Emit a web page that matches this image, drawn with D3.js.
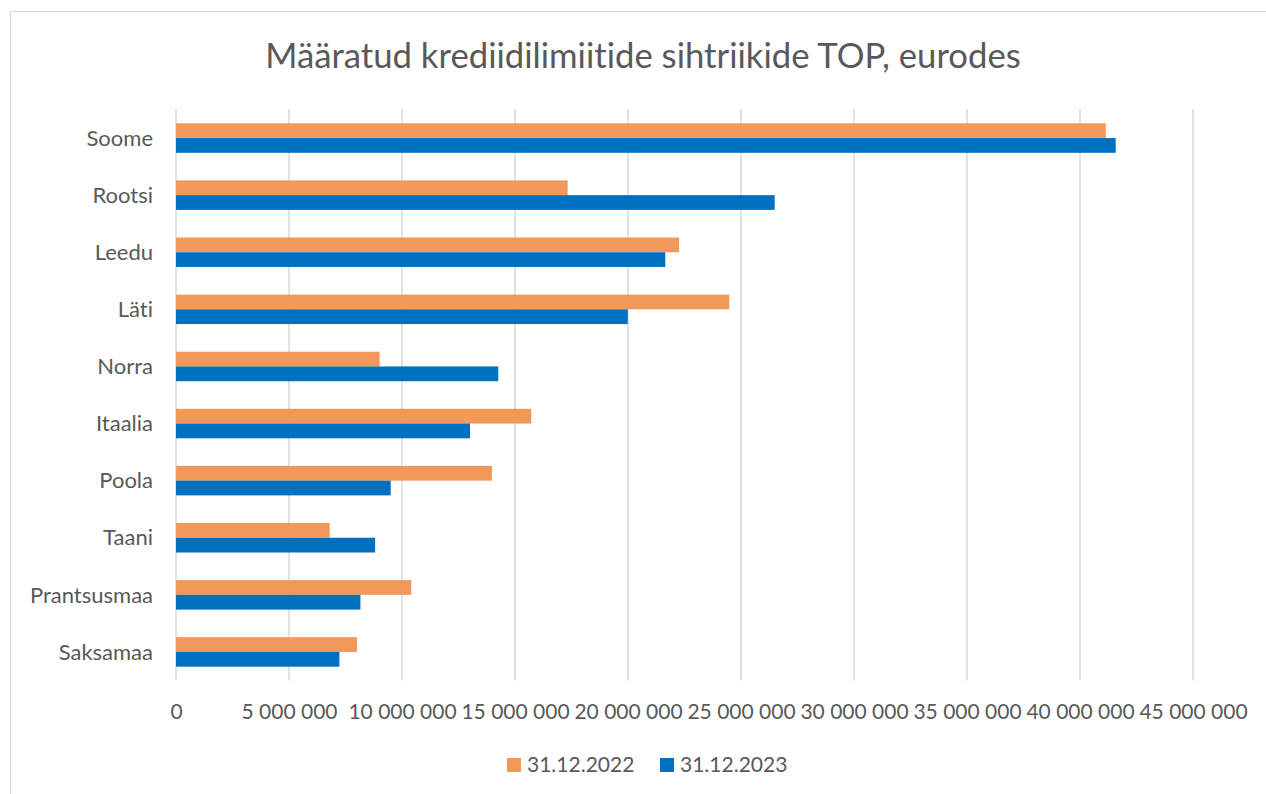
<!DOCTYPE html>
<html><head><meta charset="utf-8">
<script src="https://cdn.jsdelivr.net/npm/d3@7"></script>
<style>body{margin:0;background:#fff}svg{display:block}text{font-family:Lato,"Open Sans",sans-serif;fill:#595959;font-variant-ligatures:none;font-feature-settings:"liga" 0}</style>
</head><body><svg id="c" width="1266" height="794"></svg>
<script>
const categories = ["Soome","Rootsi","Leedu","Läti","Norra","Itaalia","Poola","Taani","Prantsusmaa","Saksamaa"];
const series2022 = [41140000,17330000,22260000,24480000,9010000,15720000,13980000,6800000,10410000,8010000];
const series2023 = [41580000,26490000,21650000,19990000,14260000,13010000,9500000,8810000,8160000,7230000];
const seriesNames = ["31.12.2022","31.12.2023"];
const tickValues = [0,5000000,10000000,15000000,20000000,25000000,30000000,35000000,40000000,45000000];
const colors = ["#F1985A","#0070C0"];

const svg = d3.select("#c");
svg.append("rect").attr("x",10.5).attr("y",11.5).attr("width",1400).attr("height",900)
  .attr("fill","#fff").attr("stroke","#d9d9d9").attr("stroke-width",1);

svg.append("text").attr("x",643).attr("y",68).attr("text-anchor","middle")
  .style("font-size","34.7px").text("Määratud krediidilimiitide sihtriikide TOP, eurodes");

const x = d3.scaleLinear().domain([0,45000000]).range([176,1193]);
const y = d3.scaleBand().domain(categories).range([109.5,680.5]).paddingInner(0).paddingOuter(0);
const sub = d3.scaleBand().domain(seriesNames).range([0,29.5]);

// gridlines
svg.append("g").selectAll("line").data(tickValues).join("line")
  .attr("x1",d=>x(d)).attr("x2",d=>x(d)).attr("y1",109).attr("y2",680.5)
  .attr("stroke","#d9d9d9").attr("stroke-width",1.5);

// axis
const xAxis = d3.axisBottom(x).tickValues(tickValues).tickSize(0)
  .tickFormat(d=>d3.format(",")(d).replace(/,/g," "));
const gx = svg.append("g").attr("transform","translate(0,701)").call(xAxis);
gx.select(".domain").remove();
gx.selectAll("text").style("font-size","21px").attr("fill","#595959").attr("dy","0.71em");

// category labels
svg.append("g").selectAll("text").data(categories).join("text")
  .attr("x",153).attr("y",d=>y(d)+y.bandwidth()/2).attr("dy","0.35em")
  .attr("text-anchor","end").style("font-size","22px").text(d=>d);

const data = categories.map((c,i)=>({c, vals:[series2022[i],series2023[i]]}));
const groupOffset = (y.bandwidth()-29.5)/2;
const g = svg.append("g");
data.forEach(d=>{
  d.vals.forEach((v,j)=>{
    g.append("rect").attr("x",x(0)).attr("y",y(d.c)+groupOffset+sub(seriesNames[j]))
      .attr("width",x(v)-x(0)).attr("height",sub.bandwidth()).attr("fill",colors[j]);
  });
});

// legend
const leg = svg.append("g");
const legX = [507,660];
seriesNames.forEach((n,j)=>{
  leg.append("rect").attr("x",legX[j]).attr("y",758).attr("width",14).attr("height",14).attr("fill",colors[j]);
  leg.append("text").attr("x",legX[j]+20).attr("y",765).attr("dy","0.35em").style("font-size","21px").text(n);
});
</script></body></html>
